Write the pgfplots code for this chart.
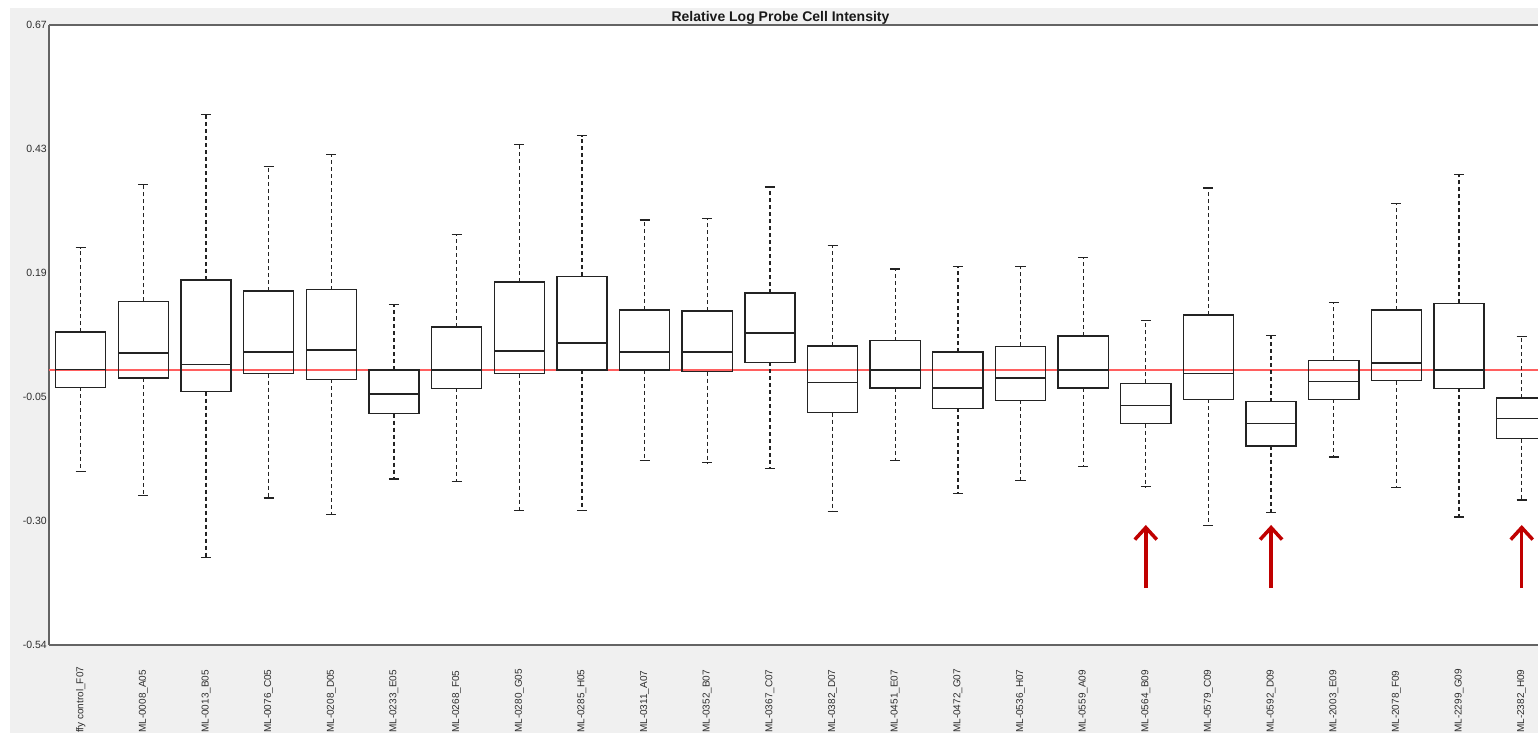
\documentclass[border=0pt]{standalone}
\usepackage{fontspec}
\setmainfont{Liberation Sans}
\usepackage{pgfplots}
\pgfplotsset{compat=1.18}
\usepgfplotslibrary{statistics}
\usetikzlibrary{arrows.meta}
\definecolor{bgcol}{RGB}{240,240,240}
\definecolor{spine}{RGB}{100,100,100}
\definecolor{boxcol}{RGB}{35,35,35}
\definecolor{redline}{RGB}{255,95,95}
\definecolor{arrowred}{RGB}{192,0,0}
\definecolor{txt}{RGB}{45,45,45}
\pgfplotsset{
  /pgfplots/boxplot/draw/whisker/.code 2 args={%
    \draw[boxcol, line width=1.3pt, dash pattern=on 4pt off 3pt] (boxplot cs:#1) -- (boxplot cs:#2);
    \draw[boxcol, line width=1.3pt, solid] (boxplot whisker cs:#2,0) -- (boxplot whisker cs:#2,1);
  },
  bx/.style n args={6}{boxcol, line width=1.4pt, solid,
    boxplot prepared={draw direction=y, draw position=#1, lower whisker=#2, lower quartile=#3,
      median=#4, upper quartile=#5, upper whisker=#6,
      box extend=0.8, whisker extend=0.16}},
}
\begin{document}
\begin{tikzpicture}
\useasboundingbox (0,0) rectangle (1538pt,733pt);
\fill[white] (0,0) rectangle (1538pt,733pt);
\fill[bgcol] (10pt,0) rectangle (1538pt,725pt);
\begin{axis}[
  name=ax,
  at={(49pt,88pt)}, anchor=south west,
  scale only axis, width=1489pt, height=620pt,
  xmin=-0.506, xmax=23.26, ymin=-0.5367, ymax=0.6733,
  boxplot/draw direction=y,
  axis x line*=bottom, axis y line*=left,
  axis line style={spine, line width=1.6pt},
  axis background/.style={fill=white},
  ytick={-0.5367,-0.2947,-0.0527,0.1893,0.4313,0.6733},
  yticklabels={-0.54,-0.30,-0.05,0.19,0.43,0.67},
  xtick={0,...,23},
  xticklabels={ffy control\_F07, ML-0008\_A05, ML-0013\_B05, ML-0076\_C05, ML-0208\_D05, ML-0233\_E05, ML-0268\_F05, ML-0280\_G05, ML-0285\_H05, ML-0311\_A07, ML-0352\_B07, ML-0367\_C07, ML-0382\_D07, ML-0451\_E07, ML-0472\_G07, ML-0536\_H07, ML-0559\_A09, ML-0564\_B09, ML-0579\_C09, ML-0592\_D09, ML-2003\_E09, ML-2078\_F09, ML-2299\_G09, ML-2382\_H09},
  tick style={draw=none},
  major tick length=0pt,
  yticklabel style={font=\fontsize{10.5}{12}\selectfont, text=txt, inner sep=0pt, xshift=-2pt},
  xticklabel style={font=\fontsize{10}{12}\selectfont, text=txt, rotate=90, anchor=west, inner sep=0pt},
  xticklabel shift=88pt,
  every axis title shift=0pt,
  title={Relative Log Probe Cell Intensity},
  title style={font=\bfseries\fontsize{14}{16}\selectfont, text=black!90, at={(0.5,1)}, anchor=south, inner sep=0pt, yshift=0pt, xshift=-13pt},
]
\addplot[redline, line width=1.3pt, forget plot] coordinates {(-1,0) (24,0)};
\addplot[bx={0}{-0.198}{-0.034}{0.001}{0.074}{0.239}] coordinates {};
\addplot[bx={1}{-0.245}{-0.016}{0.033}{0.134}{0.362}] coordinates {};
\addplot[bx={2}{-0.366}{-0.042}{0.011}{0.176}{0.499}] coordinates {};
\addplot[bx={3}{-0.250}{-0.007}{0.035}{0.154}{0.397}] coordinates {};
\addplot[bx={4}{-0.282}{-0.018}{0.039}{0.157}{0.421}] coordinates {};
\addplot[bx={5}{-0.213}{-0.085}{-0.047}{0.000}{0.128}] coordinates {};
\addplot[bx={6}{-0.217}{-0.036}{0.000}{0.084}{0.265}] coordinates {};
\addplot[bx={7}{-0.274}{-0.007}{0.037}{0.172}{0.440}] coordinates {};
\addplot[bx={8}{-0.274}{0.000}{0.053}{0.183}{0.457}] coordinates {};
\addplot[bx={9}{-0.176}{0.000}{0.035}{0.117}{0.293}] coordinates {};
\addplot[bx={10}{-0.181}{-0.003}{0.035}{0.115}{0.295}] coordinates {};
\addplot[bx={11}{-0.192}{0.015}{0.072}{0.150}{0.357}] coordinates {};
\addplot[bx={12}{-0.276}{-0.083}{-0.024}{0.047}{0.243}] coordinates {};
\addplot[bx={13}{-0.176}{-0.035}{0.000}{0.057}{0.197}] coordinates {};
\addplot[bx={14}{-0.241}{-0.075}{-0.035}{0.035}{0.202}] coordinates {};
\addplot[bx={15}{-0.215}{-0.059}{-0.016}{0.046}{0.202}] coordinates {};
\addplot[bx={16}{-0.188}{-0.035}{0.000}{0.066}{0.220}] coordinates {};
\addplot[bx={17}{-0.228}{-0.105}{-0.069}{-0.026}{0.096}] coordinates {};
\addplot[bx={18}{-0.303}{-0.057}{-0.007}{0.107}{0.355}] coordinates {};
\addplot[bx={19}{-0.278}{-0.148}{-0.105}{-0.062}{0.068}] coordinates {};
\addplot[bx={20}{-0.170}{-0.057}{-0.022}{0.019}{0.132}] coordinates {};
\addplot[bx={21}{-0.230}{-0.021}{0.014}{0.117}{0.325}] coordinates {};
\addplot[bx={22}{-0.287}{-0.036}{0.000}{0.130}{0.381}] coordinates {};
\addplot[bx={23}{-0.254}{-0.134}{-0.095}{-0.055}{0.066}] coordinates {};
\draw[arrowred, line width=3.5pt, -{Straight Barb[length=12pt,width=22pt]}] (axis cs:17,-0.4255) -- (axis cs:17,-0.3025);
\draw[arrowred, line width=3.5pt, -{Straight Barb[length=12pt,width=22pt]}] (axis cs:19,-0.4255) -- (axis cs:19,-0.3025);
\draw[arrowred, line width=3.5pt, -{Straight Barb[length=12pt,width=22pt]}] (axis cs:23,-0.4255) -- (axis cs:23,-0.3025);
\end{axis}
\draw[spine, line width=1.6pt] (ax.north west) -- (ax.north east);
\end{tikzpicture}
\end{document}
